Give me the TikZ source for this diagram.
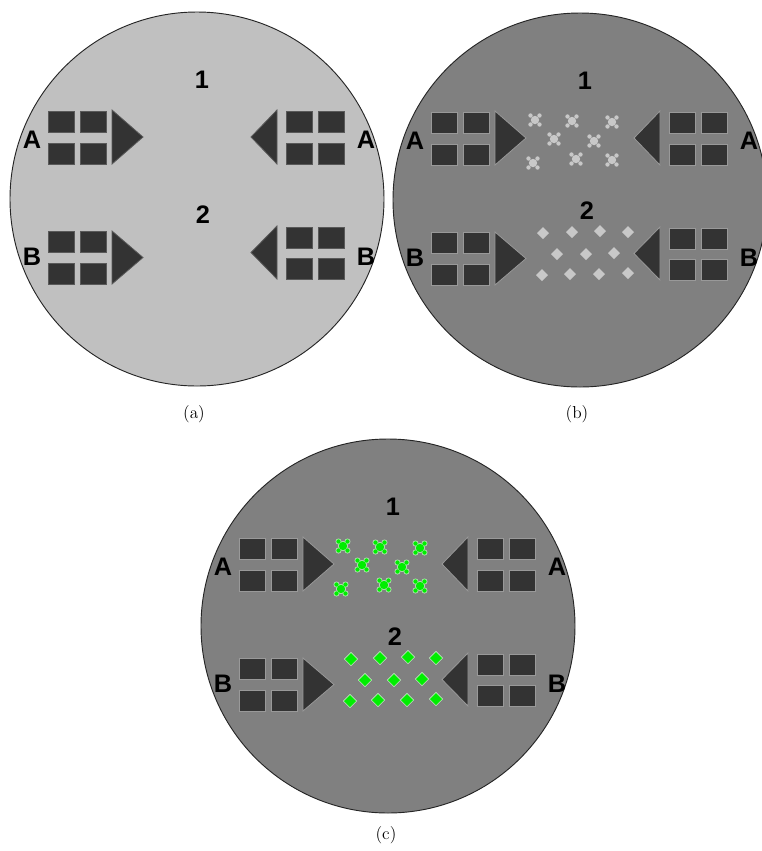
\documentclass[tikz,border=0pt]{standalone}
\usepackage{fontspec}
\newfontfamily\markfont{Liberation Sans}
\definecolor{waferlight}{HTML}{C0C0C0}
\definecolor{waferdark}{HTML}{808080}
\definecolor{padgray}{HTML}{333333}
\definecolor{dustgray}{HTML}{C8C8C8}
\definecolor{hitgreen}{HTML}{00EE00}
\definecolor{hitedge}{HTML}{B8E8B8}

\newcommand{\electrodes}[2]{%
\foreach \y in {-88,-56,32,64}{\foreach \x in {-149,-117}{\filldraw[pad=#1] (\x,\y) rectangle +(26,21);}}
\foreach \y in {-88,-56,28,59}{\foreach \x in {89,121}{\filldraw[pad=#1] (\x,\y) rectangle +(26,21);}}
\filldraw[pad=#1] (-85,-89) -- (-54,-62) -- (-85,-35) -- cycle;
\filldraw[pad=#1] (-85,32) -- (-54,58.5) -- (-85,85) -- cycle;
\filldraw[pad=#1] (80,-89) -- (54,-62) -- (80,-35) -- cycle;
\filldraw[pad=#1] (80,27) -- (54,53.5) -- (80,80) -- cycle;
\node[padlabel] (#2Al) at (-165,-59) {A};
\node[padlabel] (#2Ar) at (169,-59) {A};
\node[padlabel] (#2Bl) at (-165,58) {B};
\node[padlabel] (#2Br) at (169,58) {B};
\node[padlabel] (#2one) at (5,-119) {1};
}
\newcommand{\dust}[1]{%
\foreach \px/\py in {-45/-80,-8/-79,32/-78,-26/-61,14/-59,-47/-37,-4/-41,32/-40}{
\filldraw[#1] (\px,\py) circle (4.2);
\foreach \dx/\dy in {-4.5/-4.5,4.5/-4.5,-4.5/4.5,4.5/4.5}{\filldraw[#1] (\px+\dx,\py+\dy) circle (2.2);}}
\foreach \px/\py in {-37/33,-8/32,20/31,48/32,-23/54,6/54,34/53,-38/75,-10/74,19/74,48/73}{
\filldraw[#1] (\px,\py-6) -- (\px+6,\py) -- (\px,\py+6) -- (\px-6,\py) -- cycle;}
}

\begin{document}
\begin{tikzpicture}[x=0.75pt,y=-0.75pt,
  wafer/.style={fill=#1,draw=black!85,line width=0.7},
  pad/.style={fill=padgray,draw=#1,line width=0.6},
  padlabel/.style={inner sep=0,font=\markfont\bfseries\fontsize{19}{19}\selectfont},
  caption/.style={inner sep=0,font=\fontsize{13}{15}\selectfont},
  graydust/.style={fill=dustgray,draw=none},
  dustrim/.style={fill=hitedge,draw=hitedge,line width=1.1},
  greendust/.style={fill=hitgreen,draw=none}]
\useasboundingbox (0,0) rectangle (762,851);
\clip (0,0) rectangle (762,851);
\begin{scope}[shift={(197,199)}]
\filldraw[wafer=waferlight] (0,0) circle (187);
\electrodes{black!65}{a}
\node[padlabel] (atwo) at (6,16) {2};
\end{scope}
\node[caption] (capa) at (194,414) {(a)};
\begin{scope}[shift={(580,200)}]
\filldraw[wafer=waferdark] (0,0) circle (187);
\electrodes{black!40}{b}
\node[padlabel] (btwo) at (7,11) {2};
\dust{graydust}
\end{scope}
\node[caption] (capb) at (577,414) {(b)};
\begin{scope}[shift={(388,626)}]
\filldraw[wafer=waferdark] (0,0) circle (187);
\electrodes{black!40}{c}
\node[padlabel] (ctwo) at (7,11) {2};
\dust{dustrim}
\dust{greendust}
\end{scope}
\node[caption] (capc) at (386,835) {(c)};
\end{tikzpicture}
\end{document}
